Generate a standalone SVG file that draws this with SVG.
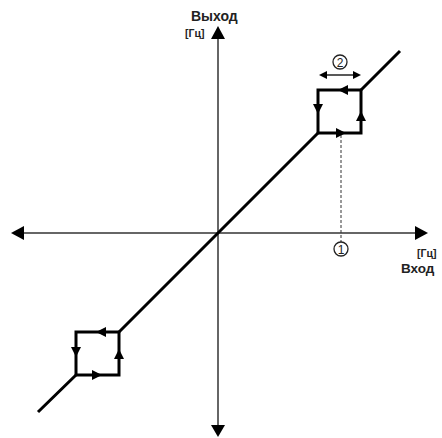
<svg xmlns="http://www.w3.org/2000/svg" width="442" height="438" viewBox="0 0 442 438">
<style>
.axis{stroke:#333;stroke-width:1.5;fill:none}
.thick{stroke:#000;stroke-width:3;fill:none;stroke-linejoin:miter}
.head{fill:#000}
.lbl{font-family:"Liberation Sans",Arial,sans-serif;font-weight:bold;fill:#222}
.num{font-family:"Liberation Sans",Arial,sans-serif;font-size:12px;fill:#222;text-anchor:middle}
.circ{fill:none;stroke:#222;stroke-width:1.3}
</style>
<defs>
<polygon id="ah" points="0,0 -10,-5 -10,5" class="head"/>
</defs>
<g id="connectors">
<line class="axis" x1="218" y1="36" x2="218" y2="428"/>
<polygon class="head" points="218,26 211,39 225,39"/>
<polygon class="head" points="218,437 211,425 225,425"/>
<line class="axis" x1="22" y1="233" x2="418" y2="233"/>
<polygon class="head" points="11,233 24,226 24,240"/>
<polygon class="head" points="428,233 415,226 415,240"/>
<path class="thick" d="M38,412 L76,375 M119,332 L318,133 M361,90 L400,51"/>
<line x1="341" y1="135" x2="341" y2="242" stroke="#333" stroke-width="1" stroke-dasharray="3,2"/>
<line x1="323" y1="75" x2="357" y2="75" stroke="#222" stroke-width="1.3"/>
<polygon class="head" points="319,75 327,71 327,79"/>
<polygon class="head" points="361,75 353,71 353,79"/>
</g>
<g id="loop-upper">
<rect class="thick" x="318" y="90" width="43" height="43"/>
<use href="#ah" transform="translate(338,90) rotate(180)"/>
<use href="#ah" transform="translate(318,114) rotate(90)"/>
<use href="#ah" transform="translate(346,133)"/>
<use href="#ah" transform="translate(361,111) rotate(-90)"/>
</g>
<g id="loop-lower">
<rect class="thick" x="76" y="332" width="43" height="43"/>
<use href="#ah" transform="translate(96,332) rotate(180)"/>
<use href="#ah" transform="translate(76,357) rotate(90)"/>
<use href="#ah" transform="translate(102,375)"/>
<use href="#ah" transform="translate(119,349) rotate(-90)"/>
</g>
<g id="labels">
<text class="lbl" x="191" y="21" font-size="14">Выход</text>
<text class="lbl" x="185" y="37" font-size="10.5">[Гц]</text>
<text class="lbl" x="417" y="257" font-size="10.5">[Гц]</text>
<text class="lbl" x="401" y="273" font-size="13.5">Вход</text>
</g>
<g id="marker-1">
<circle class="circ" cx="341" cy="249" r="7"/>
<text class="num" x="341" y="253.5">1</text>
</g>
<g id="marker-2">
<circle class="circ" cx="340" cy="62" r="7"/>
<text class="num" x="340" y="66.5">2</text>
</g>
</svg>
